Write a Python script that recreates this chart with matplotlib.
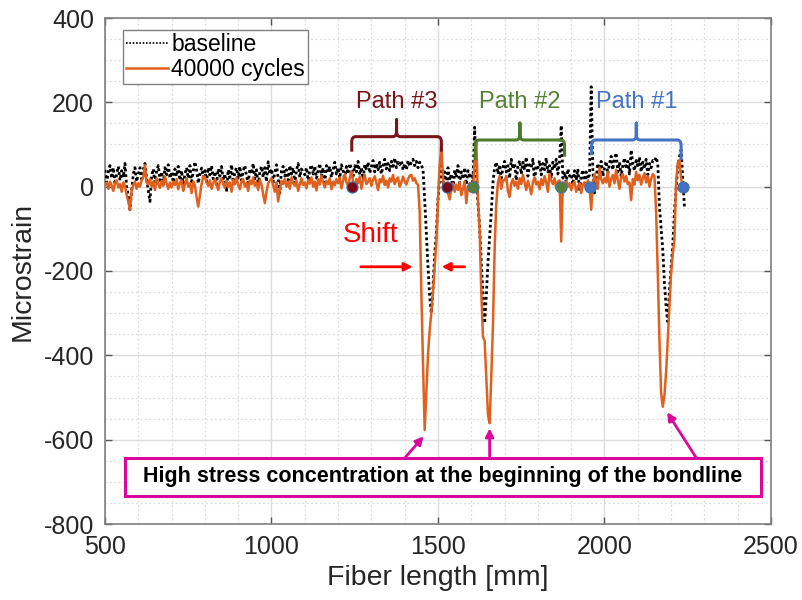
import numpy as np
import matplotlib
matplotlib.use("Agg")
import matplotlib.pyplot as plt
from matplotlib.path import Path
from matplotlib.patches import PathPatch, Rectangle
from matplotlib.ticker import MultipleLocator

plt.rcParams['font.family'] = ['Liberation Sans', 'DejaVu Sans']
plt.rcParams['axes.unicode_minus'] = False

# ---------------- data ----------------
fiber_length = np.arange(500, 2250, 5)  # mm

cycles_40000 = [
    5, 10, -5, 12, 3, -10, 8, 15, -2, 6, -12, 10, 2, -20, -35, -55, -10, 5, 12, -5,
    8, 0, 15, 22, 51, 10, 5, 18, 0, 12, -8, 20, 6, -3, 14, 2, 25, 8, -5, 10,
    -2, 12, 4, 18, -6, 9, 15, -10, 5, 20, 0, 8, -15, 12, 3, -25, -47, -20, 6, 24,
    24, 10, 2, 15, -5, 8, 18, 4, -8, 12, 20, 6, -3, 14, 0, 10, -12, 16, 5, 22,
    4, -6, 12, 18, 0, 9, -10, 15, 6, 22, 2, 10, -8, 16, 5, -18, -39, -12, 8, 14,
    20, 3, -12, 10, -35, -8, 14, 6, 18, 0, 12, -5, 22, 8, 2, 15, -10, 6, 20, 4,
    10, -4, 16, 7, 22, 0, 12, -9, 18, 5, 26, 10, -2, 14, 6, 20, -6, 12, 3, 18,
    8, 22, -4, 14, 30, 10, 2, 20, 36, 12, 0, 18, 8, 24, -5, 15, 28, 6, 12, 20,
    2, 16, 25, 8, -8, 18, 10, 26, 4, 14, -2, 20, 12, 28, 6, 16, 22, 0, 10, 24,
    12, 5, 18, 26, 28, 14, 20, 8, 5, -60, -250, -420, -577, -490, -400, -340, -300, -250, -190, -130,
    -30, 50, 100, 20, -10, 5, -15, -30, -5, 8, -12, 5, -8, 10, -20, -5, 12, -39, 0, 8,
    5, -10, 60, 110, -30, -103, -250, -356, -365, -450, -540, -561, -450, -330, -150, -40, 10, 25, -5, 15,
    15, 25, -10, -24, 8, 18, 2, 12, -5, 20, 6, 28, 10, -8, 14, 0, -18, 10, 22, 5,
    12, -6, 18, 4, 25, 10, -12, 30, 15, 6, 20, -4, 12, 15, -130, 10, -5, 12, 0, 8,
    -8, 5, 12, -12, 0, 8, -15, 4, 10, -5, 15, 2, -55, 6, 30, 12, -5, 45, 18, 8,
    20, 10, 35, 0, 18, 28, 8, 40, 15, -5, 22, 30, 12, 25, 6, 10, -32, 18, 5, 35,
    15, 28, 5, 20, 32, 10, 25, 0, 18, 30, 24, -60, -205, -363, -490, -522, -495, -440, -363, -280,
    -205, -160, -126, 10, 56, 63, 20, 0, np.nan, np.nan,
]

baseline = [
    40, 10, 35, 50, 20, 45, 5, 30, 48, 15, 38, 22, 55, 0, -20, -55, -10, 30, 45, 12,
    30, 45, 18, 40, 55, 20, -10, -35, 25, 42, 10, 38, 50, 15, 35, 5, 45, 28, 52, 20,
    35, 10, 42, 25, 48, 15, 38, 0, 30, 45, 20, 50, 12, 35, 59, 40, 8, 30, 44, 22,
    38, 12, 45, 28, 50, 18, 36, 5, 42, 25, 48, 15, 30, -12, 40, 22, 52, 10, 35, 45,
    20, 48, 15, 38, 50, 25, 8, 42, 30, 55, 18, 40, 2, 35, 48, 22, 45, 12, 59, 30,
    42, 10, 35, 52, 20, -15, 38, 48, 25, 40, 15, 50, 30, 45, 8, 38, 55, 22, 42, 35,
    28, 45, 15, 40, 52, 30, 48, 20, 38, 55, 25, 45, 10, 50, 35, 48, 22, 40, 58, 30,
    45, 20, 52, 38, 15, 48, 30, 55, 42, 25, 50, 35, 60, 28, 45, 18, 52, 40, 58, 32,
    48, 62, 35, 55, 40, 58, 30, 50, 65, 42, 55, 38, 60, 48, 68, 45, 58, 52, 62, 40,
    55, 40, 62, 48, 58, 65, 50, 60, 45, 58, 52, 40, -30, -110, -190, -260, -300, -240, -160, -110,
    -30, 20, 56, 10, 35, 0, 45, 15, 30, -10, 40, 22, 50, 8, 35, 18, 45, 5, 38, 25,
    30, 10, 141, 30, -40, -95, -180, -250, -324, -260, -180, -120, -60, 10, 45, 58, 30, 52, 20, 45,
    60, 35, 50, 20, 65, 42, 55, 15, 48, 62, 30, 58, 40, 70, 25, 52, 45, 65, 10, 50,
    45, 62, 28, 55, 40, 68, 35, 50, 20, 58, 42, 65, 30, 60, 145, 20, 35, 10, 42, 25,
    30, 5, 38, 15, 42, -10, 25, 40, 8, 35, 18, 28, 237, 40, -15, 20, 55, 35, 60, 25,
    45, 60, 30, 55, 72, 40, 65, 80, 35, 58, 25, 50, 68, 42, 60, 30, 87, 55, 38, 62,
    50, 70, 35, 58, 42, 65, 28, 55, 45, 62, 60, 70, 55, -47, -100, -150, -229, -285, -320, -245,
    -190, -142, -60, -8, 47, 70, 87, 20, -47, np.nan,
]

path_names = ["Path #3", "Path #2", "Path #1"]
path_start = [1241, 1604, 1955]
path_end = [1526, 1868, 2237]

# ---------------- figure ----------------
fig = plt.figure(figsize=(8.03, 6.0), dpi=100)
ax = fig.add_axes([105 / 803, 76 / 600, 666 / 803, 506 / 600])

ax.plot(fiber_length, baseline, color='black', lw=2.0, ls=(0, (1, 1)), label='baseline', zorder=3)
ax.plot(fiber_length, cycles_40000, color='#E0601E', lw=1.8, label='40000 cycles', zorder=4)

ax.set_xlim(500, 2500)
ax.set_ylim(-800, 400)
ax.xaxis.set_major_locator(MultipleLocator(500))
ax.xaxis.set_minor_locator(MultipleLocator(100))
ax.yaxis.set_major_locator(MultipleLocator(200))
ax.yaxis.set_minor_locator(MultipleLocator(50))
ax.grid(which='major', color='#dcdcdc', lw=1.0, ls='-', zorder=0)
ax.grid(which='minor', color='#dcdcdc', lw=0.9, ls=(0, (1.5, 2)), zorder=0)
ax.set_axisbelow(True)
ax.tick_params(which='major', direction='in', length=5, width=1, color='#555555',
               labelsize=18, labelcolor='#262626', top=True, right=True, pad=8)
ax.tick_params(which='minor', length=0)
for s in ax.spines.values():
    s.set_color('#808080')
    s.set_linewidth(1.2)

ax.set_xlabel('Fiber length [mm]', fontsize=20.5, color='#262626', labelpad=4)
ax.set_ylabel('Microstrain', fontsize=20.5, color='#262626', labelpad=6)

leg = ax.legend(loc='upper left', bbox_to_anchor=(0.027, 0.977), fontsize=16.5,
                handlelength=1.8, handletextpad=0.15, borderpad=0.15, labelspacing=0.08,
                borderaxespad=0.0, fancybox=False, framealpha=1, edgecolor='#808080')
leg.get_frame().set_linewidth(1.0)
leg.legend_handles[0].set_linewidth(1.2)
leg.legend_handles[0].set_linestyle((0, (1, 1)))

# ---------------- braces, labels, markers ----------------
path_colors = ['#7B1518', '#548235', '#4472C4']
brace_colors = ['#7B1518', '#4E7A2C', '#4472C4']
dot_fill = ['#7B0C17', '#548235', '#4472C4']
brace_x0 = [1241, 1612, 1961]
brace_x1 = [1510, 1880, 2230]
brace_end0 = [83, 63, 75]
brace_end1 = [83, 71, 63]
brace_h = [118.6, 110.7, 110.7]


def draw_brace(x0, x1, yh, ye0, ye1, color):
    xm = (x0 + x1) / 2
    rx, ry = 12, 12
    yt = yh + 40
    verts = [(x0, ye0), (x0, yh - ry), (x0, yh), (x0 + rx, yh),
             (xm - rx, yh), (xm, yh), (xm, yh + ry), (xm, yt),
             (xm, yh + ry), (xm, yh), (xm + rx, yh),
             (x1 - rx, yh), (x1, yh), (x1, yh - ry), (x1, ye1)]
    codes = [Path.MOVETO, Path.LINETO, Path.CURVE3, Path.CURVE3,
             Path.LINETO, Path.CURVE3, Path.CURVE3, Path.LINETO,
             Path.LINETO, Path.CURVE3, Path.CURVE3,
             Path.LINETO, Path.CURVE3, Path.CURVE3, Path.LINETO]
    ax.add_patch(PathPatch(Path(verts, codes), fill=False, edgecolor=color,
                           lw=2.2, capstyle='butt', joinstyle='round', zorder=5))
    return xm


for i in range(3):
    xm = draw_brace(brace_x0[i], brace_x1[i], brace_h[i], brace_end0[i], brace_end1[i], brace_colors[i])
    ax.text(xm, 201, path_names[i], color=path_colors[i], fontsize=17,
            ha='center', va='center', zorder=6)
    ax.plot([path_start[i], path_end[i]], [0, 0], ls='none', marker='o', ms=8,
            mfc=dot_fill[i], mec='#41719C', mew=0.8, zorder=7)

# ---------------- shift annotation ----------------
ax.text(1296, -115, 'Shift', color='#FF0000', fontsize=20, ha='center', va='center', zorder=6)
ax.annotate('', xy=(1424, -190), xytext=(1268, -190),
            arrowprops=dict(arrowstyle='-|>', color='#FF0000', lw=2, mutation_scale=12,
                            shrinkA=0, shrinkB=0), zorder=6)
ax.annotate('', xy=(1511, -190), xytext=(1580, -190),
            arrowprops=dict(arrowstyle='-|>', color='#FF0000', lw=2, mutation_scale=12,
                            shrinkA=0, shrinkB=0), zorder=6)

# ---------------- bondline annotation ----------------
mag = '#D9089B'
ax.add_patch(Rectangle((560, -733.7), 1911, 90.1, facecolor='white', edgecolor=mag,
                       lw=2.2, zorder=8))
ax.text(1514, -688, 'High stress concentration at the beginning of the bondline',
        fontsize=15.5, fontweight='bold', color='black', ha='center', va='center', zorder=9)
for tail, head in [((1400, -643.6), (1457, -592)),
                   ((1655, -643.6), (1655, -573)),
                   ((2276, -643.6), (2188, -535))]:
    ax.annotate('', xy=head, xytext=tail,
                arrowprops=dict(arrowstyle='-|>', color=mag, lw=2, mutation_scale=12,
                                shrinkA=0, shrinkB=0), zorder=8)

fig.savefig('out.png', dpi=100)
